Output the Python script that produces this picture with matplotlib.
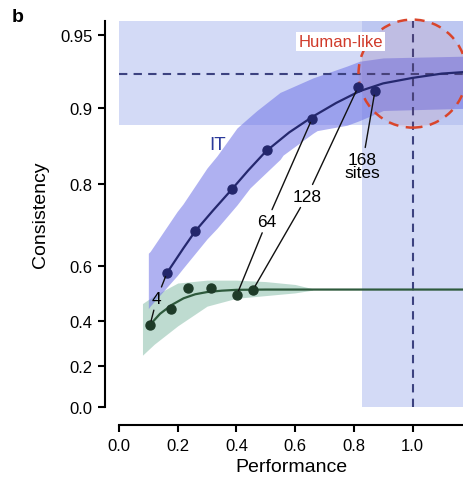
import numpy as np
import matplotlib
matplotlib.use("Agg")
import matplotlib.pyplot as plt
from matplotlib.patches import Circle
import matplotlib.transforms as mtransforms

# measured points
it_perf = [0.164, 0.259, 0.385, 0.504, 0.658, 0.814, 0.872]
it_cons = [0.580, 0.700, 0.791, 0.853, 0.890, 0.918, 0.915]
v4_perf = [0.106, 0.177, 0.235, 0.313, 0.402, 0.457]
v4_cons = [0.385, 0.450, 0.529, 0.526, 0.504, 0.522]

# fitted curves
it_fit_x = [0.164, 0.22, 0.26, 0.32, 0.385, 0.44, 0.50, 0.58, 0.66, 0.74, 0.82, 0.90, 1.00, 1.10, 1.172]
it_fit_y = [0.580, 0.655, 0.700, 0.748, 0.791, 0.823, 0.851, 0.875, 0.892, 0.905, 0.915, 0.921, 0.925, 0.928, 0.929]
v4_fit_x = [0.106, 0.14, 0.18, 0.22, 0.26, 0.30, 0.35, 0.40, 0.50, 1.172]
v4_fit_y = [0.385, 0.430, 0.465, 0.490, 0.505, 0.513, 0.518, 0.521, 0.522, 0.522]

# shaded bands
it_band_x = [0.100, 0.106, 0.198, 0.218, 0.300, 0.334, 0.402, 0.446, 0.470, 0.549, 0.559, 0.661, 0.675, 0.777, 0.82, 0.90, 1.172]
it_band_lo = [0.450, 0.460, 0.570, 0.594, 0.680, 0.707, 0.760, 0.793, 0.805, 0.840, 0.846, 0.874, 0.877, 0.883, 0.888, 0.898, 0.900]
it_band_hi = [0.640, 0.645, 0.746, 0.762, 0.827, 0.845, 0.880, 0.892, 0.898, 0.914, 0.915, 0.925, 0.926, 0.933, 0.936, 0.938, 0.939]
v4_band_x = [0.08, 0.12, 0.20, 0.30, 0.40, 0.50, 0.60, 0.66]
v4_band_lo = [0.25, 0.30, 0.38, 0.46, 0.49, 0.50, 0.51, 0.52]
v4_band_hi = [0.47, 0.50, 0.545, 0.555, 0.555, 0.55, 0.54, 0.525]

# site-count labels: (text, IT point index, V4 point index or None, label pos)
site_labels = [
    ("4", 0, 0, (0.129, 0.489)),
    ("64", 4, 4, (0.504, 0.724)),
    ("128", 5, 5, (0.641, 0.778)),
    ("168\nsites", 6, None, (0.828, 0.830)),
]

human_perf = 1.0
human_cons = 0.928
human_perf_lo = 0.828
human_cons_lo = 0.883

yticks = [0.0, 0.2, 0.4, 0.6, 0.8, 0.9, 0.95]
ytick_labels = ["0.0", "0.2", "0.4", "0.6", "0.8", "0.9", "0.95"]
xticks = [0.0, 0.2, 0.4, 0.6, 0.8, 1.0]
xtick_labels = ["0.0", "0.2", "0.4", "0.6", "0.8", "1.0"]

plt.rcParams["font.family"] = ["Liberation Sans", "DejaVu Sans"]

fig = plt.figure(figsize=(4.63, 4.89), dpi=100)
ax = fig.add_axes([0.257, 0.1656, 0.743, 0.7894])
ax.set_yscale("function", functions=(np.arctanh, np.tanh))
ax.set_xlim(0, 1.172)
ax.set_ylim(0, 0.9565)

light = "#a9b6ee"
ax.fill_between([0, 1.172], human_cons_lo, 0.9565, color=light, alpha=0.5, lw=0, zorder=0)
ax.fill_between([human_perf_lo, 1.172], 0, 0.9565, color=light, alpha=0.5, lw=0, zorder=0)

ax.fill_between(v4_band_x, v4_band_lo, v4_band_hi, color="#94c4b2", alpha=0.6, lw=0, zorder=1)
ax.fill_between(it_band_x, it_band_lo, it_band_hi, color="#6e72e6", alpha=0.55, lw=0, zorder=1)

ax.axhline(human_cons, color="#3c4280", lw=1.5, ls=(0, (4, 3)), zorder=2)
ax.axvline(human_perf, color="#3c4280", lw=1.5, ls=(0, (4, 3)), zorder=2)

circ_tr = fig.dpi_scale_trans + mtransforms.ScaledTranslation(human_perf, human_cons, ax.transData)
ax.add_patch(Circle((0, 0), 0.54, transform=circ_tr, facecolor=(0.85, 0.3, 0.25, 0.08),
                    edgecolor="#d9452b", lw=1.8, ls=(0, (4, 3)), zorder=3, clip_on=False))

ax.plot(v4_fit_x, v4_fit_y, color="#2e5a3c", lw=1.6, zorder=4)
ax.plot(it_fit_x, it_fit_y, color="#25286e", lw=1.6, zorder=4)
ax.plot(v4_perf, v4_cons, "o", color="#1e3b28", ms=6.5, zorder=5)
ax.plot(it_perf, it_cons, "o", color="#23266b", ms=6.5, zorder=5)

arrow = dict(arrowstyle="-", color="#111111", lw=1.0, shrinkA=1, shrinkB=3)
for text, i_it, i_v4, pos in site_labels:
    ax.annotate(text, xy=(it_perf[i_it], it_cons[i_it]), xytext=pos, fontsize=12.5,
                ha="center", va="center", linespacing=0.9, arrowprops=arrow, zorder=6)
    if i_v4 is not None:
        ax.annotate(text, xy=(v4_perf[i_v4], v4_cons[i_v4]), xytext=pos, fontsize=12.5,
                    ha="center", va="center", linespacing=0.9, color="none",
                    arrowprops=arrow, zorder=6)

ax.text(0.337, 0.860, "IT", color="#2b3a9a", fontsize=13.5, ha="center", va="center", zorder=6)
ax.text(0.755, 0.947, "Human-like", color="#d03a2a", fontsize=12, ha="center", va="center",
        zorder=6, bbox=dict(facecolor="white", edgecolor="none", pad=1.5))

for s in ["top", "right"]:
    ax.spines[s].set_visible(False)
ax.spines["left"].set_position(("outward", 10))
ax.spines["bottom"].set_position(("outward", 13))
ax.spines["left"].set_linewidth(1.5)
ax.spines["bottom"].set_linewidth(1.5)
ax.set_yticks(yticks)
ax.set_yticklabels(ytick_labels)
ax.set_xticks(xticks)
ax.set_xticklabels(xtick_labels)
ax.minorticks_off()
ax.tick_params(axis="both", labelsize=12, width=1.5, length=5, pad=4)
ax.set_xlabel("Performance", fontsize=14, labelpad=4)
ax.set_ylabel("Consistency", fontsize=14, labelpad=8)
fig.text(0.025, 0.965, "b", fontsize=14, fontweight="bold", ha="left", va="center")

fig.savefig("out.png", dpi=100)
